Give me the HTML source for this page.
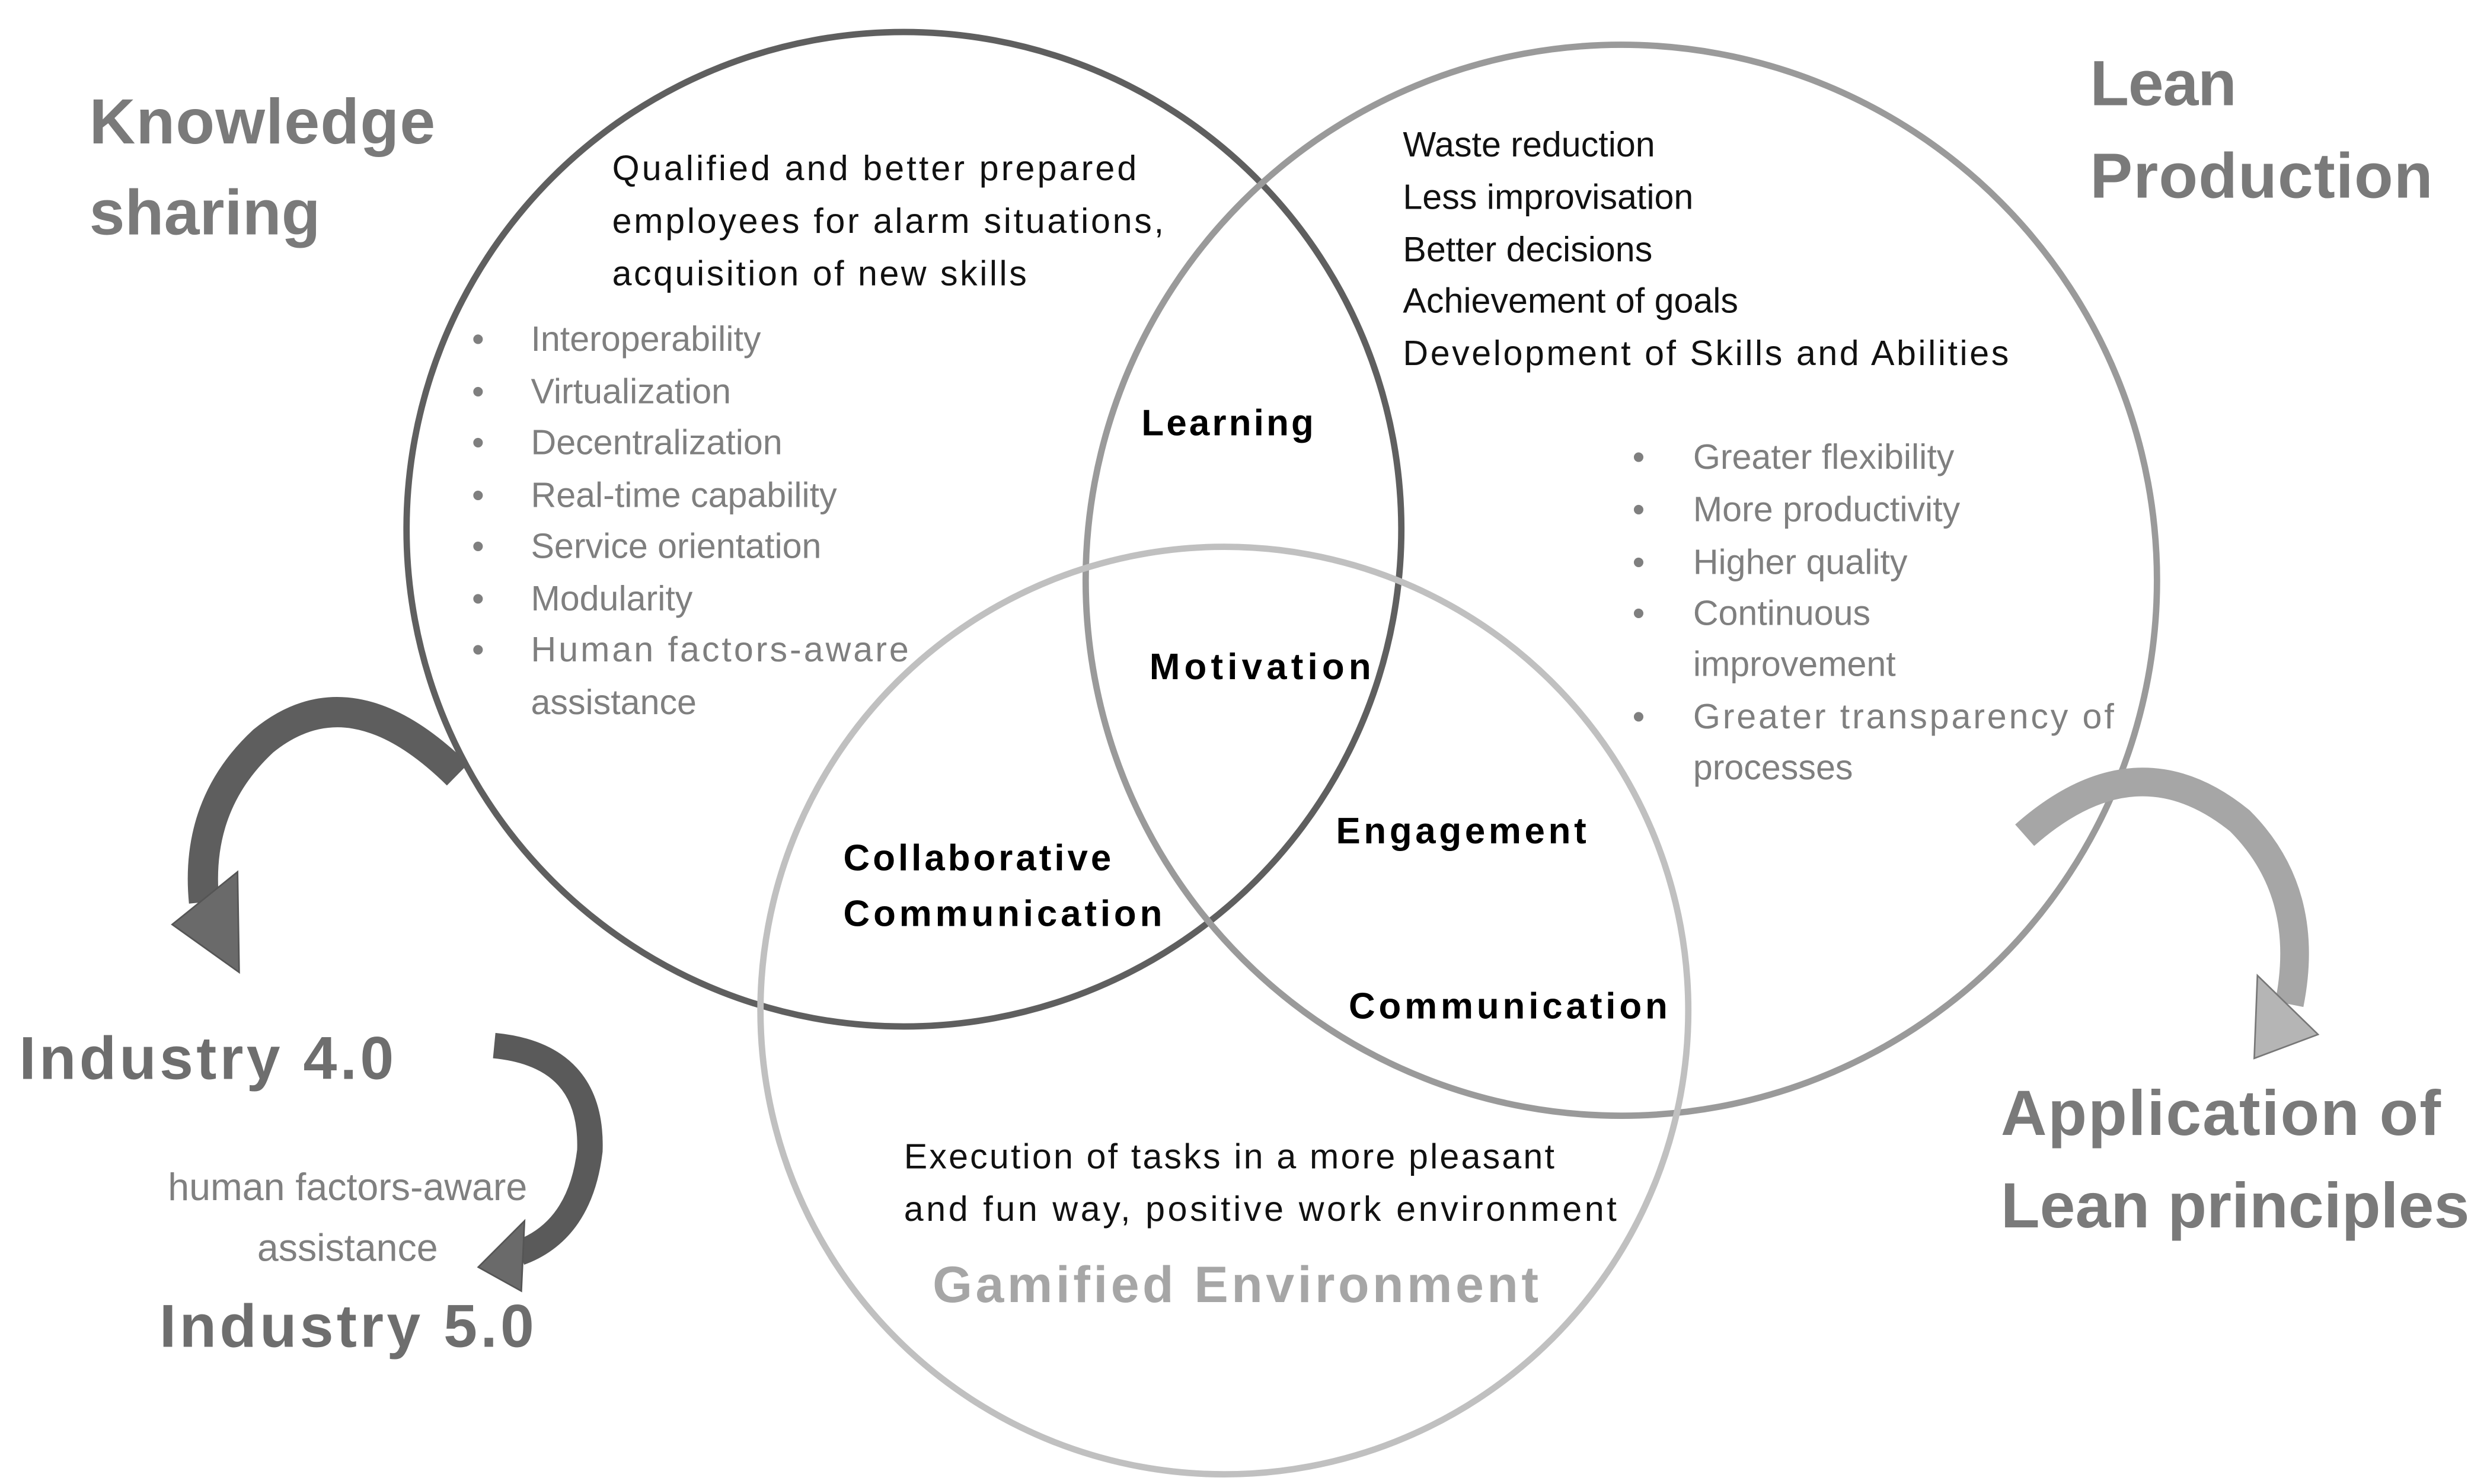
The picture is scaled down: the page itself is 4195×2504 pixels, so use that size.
<!DOCTYPE html>
<html><head><meta charset="utf-8"><style>
html,body{margin:0;padding:0;background:#fff;}
svg{display:block;}
text{font-family:"Liberation Sans",sans-serif;}
</style></head><body>
<svg width="4195" height="2504" viewBox="0 0 1560 931" xmlns="http://www.w3.org/2000/svg">
<rect width="1560" height="931" fill="#fff"/>
<circle cx="567" cy="332" r="312" fill="none" stroke="#5f5f5f" stroke-width="4"/>
<circle cx="1017" cy="364" r="336" fill="none" stroke="#9a9a9a" stroke-width="4"/>
<circle cx="768" cy="634" r="291" fill="none" stroke="#c0c0c0" stroke-width="4"/>

<!-- left arrow -->
<path d="M287,486 Q220,420 165,465 Q122,505 128,566" fill="none" stroke="#5e5e5e" stroke-width="19"/>
<polygon points="108,580 150,610 149,547" fill="#6a6a6a" stroke="#555" stroke-width="1"/>
<!-- industry arrow -->
<path d="M310,656 Q372,662 370,722 Q364,772 326,786" fill="none" stroke="#5a5a5a" stroke-width="16"/>
<polygon points="329,766 300,795 327,810" fill="#6a6a6a" stroke="#555" stroke-width="1"/>
<!-- right arrow -->
<path d="M1270,524 Q1340,462 1405,515 Q1450,560 1436,630" fill="none" stroke="#a6a6a6" stroke-width="18"/>
<polygon points="1416,612 1414,664 1454,649" fill="#b5b5b5" stroke="#777" stroke-width="1"/>

<g font-weight="bold" fill="#7a7a7a" font-size="40">
<text x="56" y="90" textLength="217">Knowledge</text>
<text x="56" y="147" textLength="145">sharing</text>
<text x="1311" y="66" textLength="92">Lean</text>
<text x="1311" y="124" textLength="215">Production</text>
<text x="1255" y="712" textLength="276">Application of</text>
<text x="1255" y="770" textLength="294">Lean principles</text>
<text x="12" y="677" font-size="38" fill="#6e6e6e" textLength="235">Industry 4.0</text>
<text x="100" y="845" font-size="38" fill="#6e6e6e" textLength="235">Industry 5.0</text>
</g>
<g font-size="24" fill="#808080" text-anchor="middle">
<text x="218" y="753">human factors-aware</text>
<text x="218" y="791">assistance</text>
</g>

<g font-size="22" fill="#111">
<text x="384" y="113" textLength="329">Qualified and better prepared</text>
<text x="384" y="146" textLength="346">employees for alarm situations,</text>
<text x="384" y="179" textLength="260">acquisition of new skills</text>
<text x="880" y="98">Waste reduction</text>
<text x="880" y="131">Less improvisation</text>
<text x="880" y="164">Better decisions</text>
<text x="880" y="196">Achievement of goals</text>
<text x="880" y="229" textLength="380">Development of Skills and Abilities</text>
<text x="567" y="733" textLength="408">Execution of tasks in a more pleasant</text>
<text x="567" y="766" textLength="447">and fun way,  positive work environment</text>
</g>

<g font-size="22" fill="#7f7f7f">
<text x="296" y="220">•</text><text x="333" y="220">Interoperability</text>
<text x="296" y="253">•</text><text x="333" y="253">Virtualization</text>
<text x="296" y="285">•</text><text x="333" y="285">Decentralization</text>
<text x="296" y="318">•</text><text x="333" y="318">Real-time capability</text>
<text x="296" y="350">•</text><text x="333" y="350">Service orientation</text>
<text x="296" y="383">•</text><text x="333" y="383">Modularity</text>
<text x="296" y="415">•</text><text x="333" y="415" textLength="237">Human factors-aware</text>
<text x="333" y="448">assistance</text>
<text x="1024" y="294">•</text><text x="1062" y="294">Greater flexibility</text>
<text x="1024" y="327">•</text><text x="1062" y="327">More productivity</text>
<text x="1024" y="360">•</text><text x="1062" y="360">Higher quality</text>
<text x="1024" y="392">•</text><text x="1062" y="392">Continuous</text>
<text x="1062" y="424">improvement</text>
<text x="1024" y="457">•</text><text x="1062" y="457" textLength="264">Greater transparency of</text>
<text x="1062" y="489">processes</text>
</g>

<g font-size="23" font-weight="bold" fill="#000">
<text x="716" y="273" textLength="108">Learning</text>
<text x="721" y="426" textLength="139">Motivation</text>
<text x="529" y="546" textLength="168">Collaborative</text>
<text x="529" y="581" textLength="200">Communication</text>
<text x="838" y="529" textLength="157">Engagement</text>
<text x="846" y="639" textLength="200">Communication</text>
</g>
<text x="775" y="817" font-size="32" font-weight="bold" fill="#a6a6a6" text-anchor="middle" textLength="380">Gamified Environment</text>
</svg>
</body></html>
